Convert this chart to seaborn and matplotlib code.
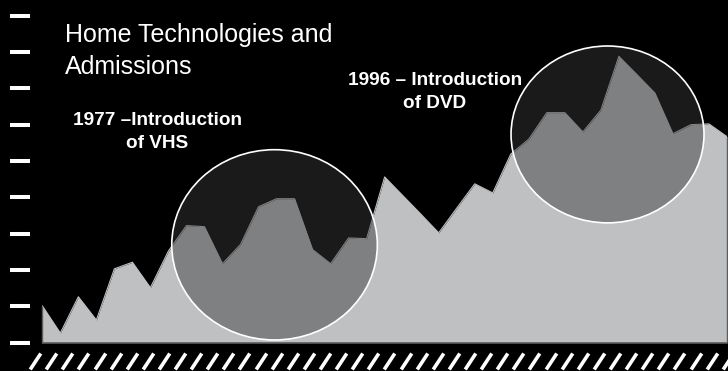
import numpy as np
import pandas as pd
import matplotlib
matplotlib.use("Agg")
import matplotlib.pyplot as plt
from matplotlib.patches import Ellipse
from matplotlib.path import Path
from matplotlib.ticker import MultipleLocator
import seaborn as sns

# Data (admissions, millions)
years = list(range(1970, 2009))
admissions = [901, 826, 926, 862, 1003, 1021, 951, 1052, 1122, 1119,
              1017, 1070, 1174, 1196, 1196, 1056, 1017, 1088, 1086, 1256,
              1205, 1154, 1102, 1170, 1237, 1212, 1319, 1360, 1433, 1433,
              1380, 1440, 1588, 1538, 1487, 1375, 1400, 1402, 1367]

title = "Home Technologies and\nAdmissions"
vhs_label = "1977 \u2013Introduction\nof VHS"
dvd_label = "1996 \u2013 Introduction\nof DVD"

df = pd.DataFrame({"year": years, "admissions": admissions})

sns.set_style("dark")
plt.rcParams["font.family"] = ["Liberation Sans", "DejaVu Sans"]

fig = plt.figure(figsize=(7.28, 3.71), dpi=100, facecolor="black")
ax = fig.add_axes([0.0581, 0.0768, 0.9405, 0.8809])
ax.set_facecolor("black")

# area
ax.fill_between(df["year"], 800, df["admissions"], color="#bfc0c2",
                linewidth=0, zorder=2)
sns.lineplot(data=df, x="year", y="admissions", color="#bfc0c2",
             linewidth=0.8, ax=ax, zorder=3)
# darker outline on the bottom and the two ends of the area
ax.hlines(800, years[0], years[-1], color="#5c5c5c", linewidth=1.2,
          zorder=3, clip_on=False)
ax.vlines([years[0], years[-1]], 800, [admissions[0], admissions[-1]],
          color="#5c5c5c", linewidth=1.0, zorder=3, clip_on=False)

# highlight circles
for cx, cy, w, h in [(1982.89, 1069, 11.41, 524), (2001.37, 1373, 10.71, 487)]:
    ax.add_patch(Ellipse((cx, cy), w, h, facecolor=(0.22, 0.22, 0.22, 0.47),
                         edgecolor="white", linewidth=1.2, zorder=4))

ax.set_xlim(1970, 2008)
ax.set_ylim(800, 1700)
ax.yaxis.set_major_locator(MultipleLocator(100))
ax.set_xticks([])
ax.set_yticklabels([])
ax.set_xlabel("")
ax.set_ylabel("")
for side in ["top", "right", "bottom"]:
    ax.spines[side].set_visible(False)
ax.spines["left"].set_position(("outward", 9))
ax.spines["left"].set_color("none")
ax.tick_params(axis="y", direction="out", length=14.4, width=2.9,
               color="white", left=True)
ax.grid(False)

# slanted hash band under the axis
slash = Path([(-0.33, -0.5), (0.33, 0.5)], [Path.MOVETO, Path.LINETO])
hash_x = np.arange(1969.6, 2008.6, 0.894)
ax.plot(hash_x, np.full(len(hash_x), -0.058), linestyle="none",
        marker=slash, markersize=11.5, markeredgewidth=2.6,
        markeredgecolor="white", clip_on=False,
        transform=ax.get_xaxis_transform())

# text
fig.text(0.0893, 0.938, title, color="white", fontsize=18, va="top",
         ha="left", linespacing=1.43)
fig.text(0.2157, 0.698, vhs_label, color="white", fontsize=13.7,
         fontweight="bold", ha="center", va="top", linespacing=1.44)
fig.text(0.597, 0.806, dvd_label, color="white", fontsize=13.7,
         fontweight="bold", ha="center", va="top", linespacing=1.44)

fig.savefig("out.png", dpi=100, facecolor="black")
